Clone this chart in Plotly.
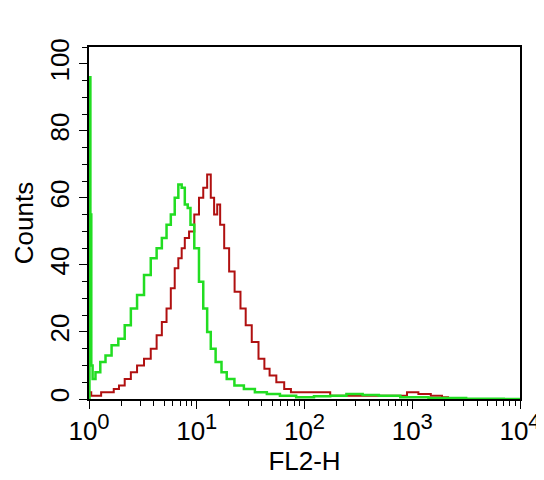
import plotly.graph_objects as go

green_x = [1.0, 1.02, 1.04, 1.06, 1.1, 1.2, 1.35, 1.5, 1.75, 2.0, 2.3, 2.6, 3.0, 3.5, 4.0, 4.5, 5.0, 5.5, 6.0, 6.5, 7.0, 7.5, 8.0, 8.5, 9.0, 10.0, 11.0, 12.0, 13.0, 14.0, 16.0, 18.0, 20.0, 25.0, 30.0, 40.0, 50.0, 70.0, 100.0, 150.0, 200.0, 300.0, 400.0, 600.0, 1000.0, 2000.0, 5000.0, 10000.0]
green_y = [0, 96, 55, 10, 6, 8, 11, 13, 16, 18, 22, 27, 31, 37, 42, 45, 48, 52, 55, 60, 64, 63, 58, 57, 52, 45, 35, 27, 20, 15, 11, 8, 6, 4, 3, 2, 1.5, 1, 0.5, 0.8, 1, 1.5, 1.2, 1, 0.5, 0.3, 0.1, 0]

red_x = [1.0, 1.1, 1.2, 1.4, 1.6, 1.8, 2.0, 2.3, 2.6, 3.0, 3.5, 4.0, 4.5, 5.0, 5.5, 6.0, 6.5, 7.0, 7.5, 8.0, 9.0, 10.0, 11.0, 12.0, 13.0, 14.0, 15.0, 16.0, 17.0, 19.0, 21.0, 24.0, 27.0, 30.0, 35.0, 40.0, 45.0, 50.0, 60.0, 70.0, 80.0, 100.0, 150.0, 200.0, 300.0, 500.0, 800.0, 1000.0, 1300.0, 1700.0, 2100.0, 2200.0]
red_y = [2, 1, 1, 2, 2, 3, 4, 6, 8, 10, 12, 15, 19, 23, 27, 33, 39, 42, 45, 48, 50, 55, 60, 63, 67, 60, 55, 58, 52, 45, 38, 32, 27, 22, 17, 12, 9, 7, 5, 3, 2, 2, 2, 1, 1, 1, 1, 2, 1.5, 1, 0.5, 0]

x_tickvals = [1, 10, 100, 1000, 10000]
x_exponents = ["0", "1", "2", "3", "4"]
x_ticktext = ["10<sup><span style='font-size:22px'>%s</span></sup>" % e for e in x_exponents]
y_tickvals = [0, 20, 40, 60, 80, 100]

fig = go.Figure()
fig.add_trace(go.Scatter(x=red_x, y=red_y, mode="lines", line=dict(color="#b01010", width=2, shape="hvh")))
fig.add_trace(go.Scatter(x=green_x, y=green_y, mode="lines", line=dict(color="#22dd22", width=2.5, shape="hvh")))

font = dict(family="Liberation Sans, Arial, sans-serif", size=26, color="black")
fig.update_layout(
    width=544, height=480, showlegend=False,
    margin=dict(l=81, r=32, t=39, b=89),
    paper_bgcolor="white", plot_bgcolor="white", font=font,
)
fig.update_xaxes(type="log", range=[0, 4], tickvals=x_tickvals, ticktext=x_ticktext,
                 ticks="outside", ticklen=8, tickcolor="black", showgrid=False,
                 showline=True, linecolor="black", linewidth=1.5, mirror=True,
                 minor=dict(dtick="D1", ticks="outside", ticklen=5, tickcolor="black", showgrid=False),
                 title=dict(text="FL2-H", font=dict(size=26), standoff=2), zeroline=False)
fig.update_yaxes(range=[0, 105], tickvals=y_tickvals, tickangle=-90,
                 ticks="outside", ticklen=8, tickcolor="black", showgrid=False,
                 showline=True, linecolor="black", linewidth=1.5, mirror=True,
                 minor=dict(dtick=5, ticks="outside", ticklen=5, tickcolor="black", showgrid=False),
                 title=dict(text="Counts", font=dict(size=26), standoff=4), zeroline=False)
fig.write_html("out.html")
